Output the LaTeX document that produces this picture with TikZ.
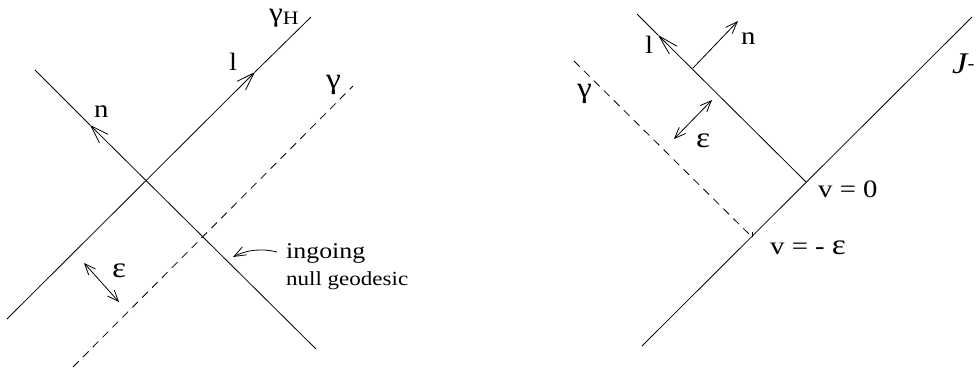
\documentclass[tikz,border=0pt]{standalone}
\usepackage{fontspec}
\setmainfont{Liberation Serif}[FakeStretch=1.15]
\usetikzlibrary{arrows.meta}
\newcommand{\grk}[1]{{\fontsize{29}{29}\selectfont #1}}
\tikzset{
  ln/.style={line width=0.8pt},
  dsh/.style={line width=0.8pt, dash pattern=on 8pt off 6pt},
  bigarr/.style={-{Straight Barb[length=18pt,width=12pt]}},
  smlarr/.style={{Straight Barb[length=11pt,width=9pt]}-{Straight Barb[length=11pt,width=9pt]}},
  onearr/.style={-{Straight Barb[length=12pt,width=9pt]}},
  lab/.style={inner sep=0pt, anchor=base west, font=\fontsize{25}{29}\selectfont},
}
\begin{document}
\begin{tikzpicture}[x=1pt,y=-1pt]
\useasboundingbox (0,0) rectangle (977,376);
% ---------- left panel ----------
\coordinate (gHs) at (7,319);
\coordinate (gHa) at (255,72);
\coordinate (gHe) at (311,17);
\draw[ln,bigarr] (gHs) -- (gHa);
\draw[ln] (gHa) -- (gHe);
\coordinate (ns) at (316,349);
\coordinate (na) at (90,125);
\coordinate (ne) at (35,70);
\draw[ln,bigarr] (ns) -- (na);
\draw[ln] (na) -- (ne);
\coordinate (gs) at (73,367);
\coordinate (ge) at (353,86);
\draw[dsh] (gs) -- (ge);
\coordinate (e1) at (84,263);
\coordinate (e2) at (119,302);
\draw[ln,smlarr] (e1) -- (e2);
\node[lab] (lgH) at (269,21) {{\fontsize{27}{27}\selectfont γ}\raisebox{-0.3ex}{\fontsize{19}{19}\selectfont H}};
\node[lab] (ln1) at (94,117) {n};
\node[lab] (ll1) at (229,70) {l};
\node[lab] (lg1) at (326,88) {\grk{γ}};
\node[lab] (le1) at (112,277) {\grk{ε}};
\node[lab, font=\fontsize{22.5}{26}\selectfont] (ing) at (286,258) {ingoing};
\node[lab, font=\fontsize{20}{23}\selectfont] (nullg) at (286,285) {null geodesic};
\coordinate (ings) at (277,252);
\coordinate (ingt) at (233,257);
\draw[ln,onearr] (ings) .. controls (262,248) and (246,250) .. (ingt);
% ---------- right panel ----------
\coordinate (Js) at (642,346);
\coordinate (Je) at (972,17);
\draw[ln] (Js) -- (Je);
\coordinate (v0) at (806,182);
\coordinate (la) at (658,35);
\coordinate (le) at (637,14);
\draw[ln,-{Straight Barb[length=20pt,width=11pt]}] (v0) -- (la);
\draw[ln] (la) -- (le);
\coordinate (nb) at (693,68);
\coordinate (nt) at (738,21);
\draw[ln,onearr] (nb) -- (nt);
\coordinate (gs2) at (574,61);
\coordinate (ge2) at (752,237);
\draw[dsh] (gs2) -- (ge2);
\draw[ln] (ge2) -- ++(0,-5);
\coordinate (e3) at (674,139);
\coordinate (e4) at (712,100);
\draw[ln,smlarr] (e3) -- (e4);
\node[lab] (ll2) at (645,53) {l};
\node[lab] (ln2) at (741,44) {n};
\node[lab] (lg2) at (577,97) {\grk{γ}};
\node[lab] (le2) at (696,147) {\grk{ε}};
\node[lab] (lv0) at (818,197) {v = 0};
\node[lab] (lve) at (770,254) {v = - \grk{ε}};
\node[lab] (lJ) at (952,73) {{\fontsize{30}{30}\selectfont\itshape J}\raisebox{0.3ex}{\fontsize{18}{18}\selectfont -}};
\end{tikzpicture}
\end{document}
